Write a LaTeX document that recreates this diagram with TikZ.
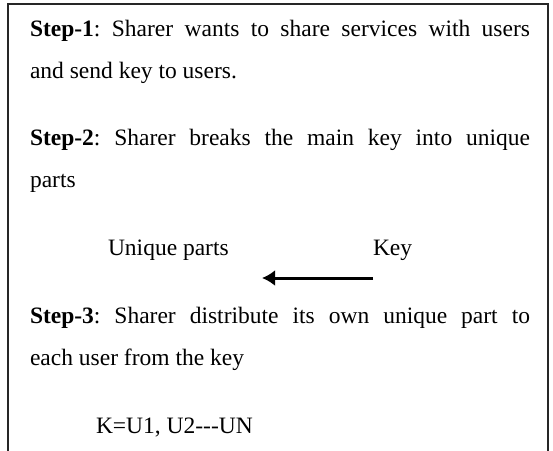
\documentclass[tikz,border=0pt]{standalone}
\usepackage{fontspec}
\setmainfont{Liberation Serif}
\usetikzlibrary{arrows.meta}
\tikzset{
  txt/.style={anchor=base west, inner sep=0pt, outer sep=0pt, font=\fontsize{23.5}{28}\selectfont\frenchspacing},
  frame/.style={line width=1.8pt, draw=black!85},
  keyarrow/.style={line width=3pt, -{Latex[length=13pt,width=16pt]}}
}
\begin{document}
\begin{tikzpicture}[x=1pt,y=-1pt]
\useasboundingbox (0,0) rectangle (553,450);
\draw[frame] (8,452) -- (8,4) -- (548,4) -- (548,452);
\node[txt] (s1a) at (30,36) {\hbox to 500pt{\textbf{Step-1}: Sharer wants to share services with users}};
\node[txt] (s1b) at (30,78) {and send key to users.};
\node[txt] (s2a) at (30,145) {\hbox to 500pt{\textbf{Step-2}: Sharer breaks the main key into unique}};
\node[txt] (s2b) at (30,187) {parts};
\node[txt] (up) at (108,255) {Unique parts};
\node[txt] (key) at (373,255) {Key};
\coordinate (atail) at (373,278);
\coordinate (ahead) at (262,278);
\draw[keyarrow] (atail) -- (ahead);
\node[txt] (s3a) at (30,323) {\hbox to 500pt{\textbf{Step-3}: Sharer distribute its own unique part to}};
\node[txt] (s3b) at (30,365) {each user from the key};
\node[txt] (kk) at (96,433) {K=U1, U2-{}-{}-UN};
\end{tikzpicture}
\end{document}
